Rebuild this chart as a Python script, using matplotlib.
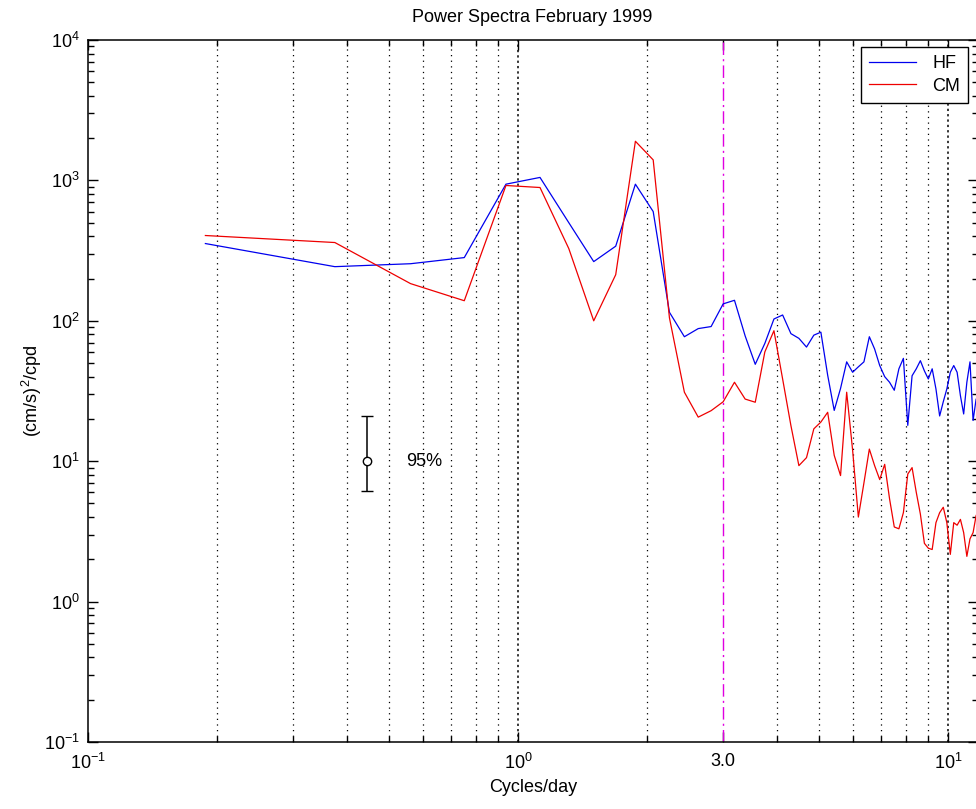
import matplotlib
matplotlib.use("Agg")
import matplotlib.pyplot as plt
from matplotlib.ticker import FixedLocator, FixedFormatter, NullFormatter

plt.rcParams["font.family"] = ["Liberation Sans", "DejaVu Sans"]
plt.rcParams["mathtext.default"] = "regular"

# frequencies (cycles/day) of the spectral estimates
freq = [0.1875, 0.375, 0.5625, 0.75, 0.9375, 1.125, 1.3125, 1.5, 1.6875, 1.875,
        2.0625, 2.25, 2.4375, 2.625, 2.8125, 3.0, 3.1875, 3.375, 3.5625, 3.75,
        3.9375, 4.125, 4.3125, 4.5, 4.6875, 4.875, 5.0625, 5.25, 5.4375, 5.625,
        5.8125, 6.0, 6.1875, 6.375, 6.5625, 6.75, 6.9375, 7.125, 7.3125, 7.5,
        7.6875, 7.875, 8.0625, 8.25, 8.4375, 8.625, 8.8125, 9.0, 9.1875, 9.375,
        9.5625, 9.75, 9.9375, 10.125, 10.3125, 10.5, 10.6875, 10.875, 11.0625, 11.25,
        11.4375, 11.625, 11.8125]

hf = [355, 243, 255, 282, 940, 1050, 500, 264, 340, 940,
      600, 115, 77, 88, 91, 132, 140, 78, 49, 69,
      103, 110, 81, 75, 65, 79, 83, 41, 23, 33,
      51, 43, 47, 51, 77, 63, 48, 40, 36.5, 32,
      45.5, 54, 18, 40.6, 45.5, 52, 44, 38.5, 45.5, 32.7,
      21, 26.5, 32.7, 43, 48, 43, 29.3, 21.7, 36.5, 51,
      19.5, 27.7, 28]

cm = [405, 361, 184, 139, 920, 890, 327, 100, 213, 1900,
      1400, 105, 31, 20.6, 22.9, 26.5, 36.5, 27.7, 26.3, 60,
      85, 38.5, 17.9, 9.3, 10.6, 17, 19, 22.3, 11, 7.9,
      31, 12, 4, 7.0, 12.2, 9.3, 7.4, 9.5, 5.4, 3.4,
      3.3, 4.3, 8.1, 9.0, 6.0, 4.2, 2.6, 2.4, 2.35, 3.65,
      4.3, 4.7, 3.65, 2.17, 3.65, 3.5, 3.85, 3.1, 2.1, 2.8,
      3.1, 4.1, 4.5]

# 95% confidence bar
ci_freq = 0.446
ci_mid = 10
ci_low = 6.1
ci_high = 21

cutoff = 3.0

xmajor = [0.1, 1, 3, 10]
xmajor_labels = ["$10^{-1}$", "$10^{0}$", "3.0", "$10^{1}$"]
xminor = [0.2, 0.3, 0.4, 0.5, 0.6, 0.7, 0.8, 0.9, 2, 4, 5, 6, 7, 8, 9]
ymajor = [1e-1, 1e0, 1e1, 1e2, 1e3, 1e4]
ymajor_labels = ["$10^{-1}$", "$10^{0}$", "$10^{1}$", "$10^{2}$", "$10^{3}$", "$10^{4}$"]
yminor = [m * d for d in [1e-1, 1e0, 1e1, 1e2, 1e3] for m in range(2, 10)]

fig = plt.figure(figsize=(9.76, 8.09), dpi=100)
ax = fig.add_axes([88 / 976, 1 - 742 / 809, 890 / 976, 702 / 809])

ax.set_xscale("log")
ax.set_yscale("log")
ax.set_xlim(0.1, 10 ** (-1 + 890 / 430))
ax.set_ylim(0.1, 1e4)

# vertical grid
for x in xminor:
    ax.axvline(x, color="k", ls=(0, (1, 3.5)), lw=0.9, zorder=1)
for x in [1, 10]:
    ax.axvline(x, color="k", ls=(0, (1.5, 2)), lw=1.1, zorder=1)
ax.axvline(cutoff, color="#e000e0", ls=(0, (9, 3, 1.5, 3)), lw=1.0, zorder=2)

ax.plot(freq, hf, color="#0000ee", lw=0.9, label="HF", zorder=3)
ax.plot(freq, cm, color="#ee0000", lw=0.9, label="CM", zorder=3)

ax.errorbar([ci_freq], [ci_mid], yerr=[[ci_mid - ci_low], [ci_high - ci_mid]],
            fmt="o", mfc="white", mec="k", ecolor="k", ms=6, capsize=4,
            elinewidth=1.1, capthick=1.1, mew=1.0, zorder=4)
ax.text(0.55, ci_mid, "95%", fontsize=13, va="center", ha="left")

ax.xaxis.set_major_locator(FixedLocator(xmajor))
ax.xaxis.set_major_formatter(FixedFormatter(xmajor_labels))
ax.xaxis.set_minor_locator(FixedLocator(xminor))
ax.xaxis.set_minor_formatter(NullFormatter())

ax.yaxis.set_major_locator(FixedLocator(ymajor))
ax.yaxis.set_major_formatter(FixedFormatter(ymajor_labels))
ax.yaxis.set_minor_locator(FixedLocator(yminor))
ax.yaxis.set_minor_formatter(NullFormatter())

ax.tick_params(which="both", direction="in", top=True, right=True, labelsize=13,
               width=1)
ax.tick_params(which="major", length=7)
ax.tick_params(which="minor", length=4.5)
ax.tick_params(axis="x", which="major", pad=8)
ax.tick_params(axis="y", which="major", pad=6)

for s in ax.spines.values():
    s.set_linewidth(1.1)

ax.set_xlabel("Cycles/day", fontsize=13, labelpad=4)
ax.set_ylabel("(cm/s)$^{2}$/cpd", fontsize=13, labelpad=0)
fig.text(532 / 976, 1 - 18 / 809, "Power Spectra February 1999", fontsize=13,
         ha="center", va="center")

leg = ax.legend(loc="upper right", bbox_to_anchor=(968 / 976, 1 - 47 / 809),
                bbox_transform=fig.transFigure, fontsize=13, fancybox=False,
                framealpha=1, edgecolor="k", handlelength=2.6, borderpad=0.45,
                labelspacing=0.3, handletextpad=0.9, borderaxespad=0)
leg.get_frame().set_linewidth(1.0)

fig.savefig("out.png", dpi=100)
